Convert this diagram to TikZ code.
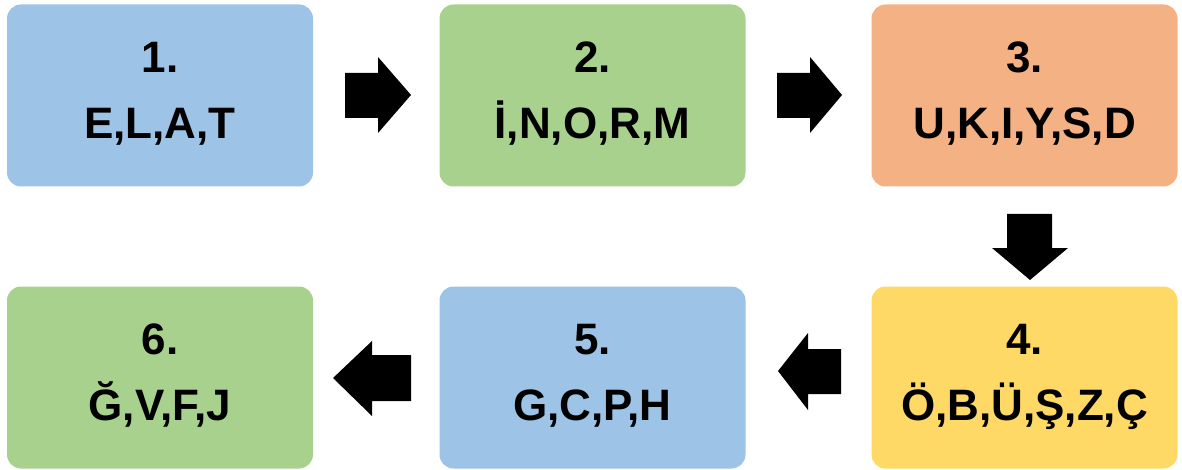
\documentclass[tikz,border=0pt]{standalone}
\usepackage{fontspec}
\setmainfont{Liberation Sans}
\definecolor{cblue}{HTML}{9DC3E6}
\definecolor{cgreen}{HTML}{A9D18E}
\definecolor{corange}{HTML}{F4B183}
\definecolor{cyellow}{HTML}{FFD966}
\newcommand{\lnstrut}{\rule[-10pt]{0pt}{37pt}}
\tikzset{
  stepbox/.style={rounded corners=14pt, minimum width=306pt, minimum height=182pt,
    inner sep=0pt, align=center, font=\fontsize{44}{66}\selectfont\bfseries},
  blockarrow/.style={fill=black}
}
\begin{document}
\begin{tikzpicture}[x=1pt,y=-1pt]
\useasboundingbox (0,0) rectangle (1182,470);
\node[stepbox, fill=cblue] (b1) at (160,95.5) {\lnstrut 1.\\\lnstrut E,L,A,T};
\node[stepbox, fill=cgreen] (b2) at (592.5,95.5) {\lnstrut 2.\\\lnstrut İ,N,O,R,M};
\node[stepbox, fill=corange] (b3) at (1024.5,95.5) {\lnstrut 3.\\\lnstrut U,K,I,Y,S,D};
\node[stepbox, fill=cyellow] (b4) at (1024.5,377.5) {\lnstrut 4.\\\lnstrut Ö,B,Ü,Ş,Z,Ç};
\node[stepbox, fill=cblue] (b5) at (592.5,377.5) {\lnstrut 5.\\\lnstrut G,C,P,H};
\node[stepbox, fill=cgreen] (b6) at (160,377.5) {\lnstrut 6.\\\lnstrut Ğ,V,F,J};
% block arrows
\fill[blockarrow] (345,73) -- (378,73) -- (378,57) -- (411,95) -- (378,133) -- (378,118) -- (345,118) -- cycle;
\fill[blockarrow] (777,73) -- (810,73) -- (810,57) -- (842,95) -- (810,133) -- (810,118) -- (777,118) -- cycle;
\fill[blockarrow] (1007,214) -- (1052,214) -- (1052,248) -- (1068,248) -- (1030,280) -- (992,248) -- (1007,248) -- cycle;
\fill[blockarrow] (841,349) -- (808,349) -- (808,333) -- (778,371) -- (808,410) -- (808,394) -- (841,394) -- cycle;
\fill[blockarrow] (411,355) -- (372,355) -- (372,341) -- (333,378) -- (372,416) -- (372,401) -- (411,401) -- cycle;
\end{tikzpicture}
\end{document}
